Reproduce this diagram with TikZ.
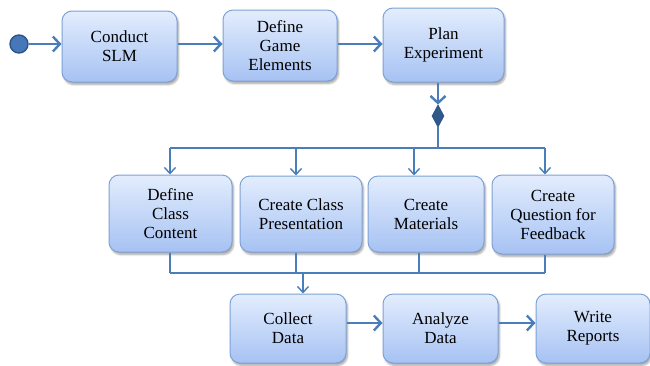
\documentclass[tikz,border=0pt]{standalone}
\usepackage{fontspec}
\setmainfont{Liberation Serif}
\usetikzlibrary{arrows.meta,shapes.geometric,shadows.blur}
\definecolor{linec}{HTML}{4A7EBB}
\definecolor{boxline}{HTML}{7EA2D6}
\definecolor{boxtop}{HTML}{E3EDFD}
\definecolor{boxbot}{HTML}{A6C2F3}
\definecolor{dotfill}{HTML}{4677B8}
\definecolor{dotline}{HTML}{2C5586}
\begin{document}
\begin{tikzpicture}[x=1pt,y=-1pt,
  act/.style={rectangle, rounded corners=10pt, draw=boxline, line width=1pt,
    top color=boxtop, bottom color=boxbot, align=center, inner sep=2pt,
    font=\rmfamily\fontsize{17}{19}\selectfont,
    blur shadow={shadow xshift=1.5pt, shadow yshift=-2.5pt, shadow opacity=35, shadow blur steps=6}},
  flow/.style={draw=linec, line width=2.4pt,
    -{Straight Barb[length=7pt,width=15pt]}},
  branch/.style={draw=linec, line width=1.4pt},
  branchin/.style={branch, -{Straight Barb[length=6pt,width=11pt]}}]
\useasboundingbox (0,0) rectangle (650,365);

% initial state
\node[circle, draw=dotline, fill=dotfill, line width=1.4pt, minimum size=18pt, inner sep=0pt] (start) at (19,44) {};

% first row
\node[act, minimum width=115pt, minimum height=71pt] (slm) at (119.5,46.5) {Conduct\\SLM};
\node[act, minimum width=114pt, minimum height=71pt] (game) at (280,45.5) {Define\\Game\\Elements};
\node[act, minimum width=121pt, minimum height=74pt] (plan) at (443.5,45) {Plan\\Experiment};

% fork diamond
\node[diamond, draw=dotline, fill=dotline!90!dotfill, line width=0.8pt, minimum width=12pt, minimum height=22pt, inner sep=0pt] (fork) at (438,116) {};

% second row
\node[act, minimum width=123pt, minimum height=77pt] (content) at (170.5,213.5) {Define\\Class\\Content};
\node[act, minimum width=122pt, minimum height=76pt] (present) at (301,214) {Create Class\\Presentation};
\node[act, minimum width=116pt, minimum height=76pt] (mater) at (426,214) {Create\\Materials};
\node[act, minimum width=122pt, minimum height=79pt] (quest) at (553,214.5) {Create\\Question for\\Feedback};

% third row
\node[act, minimum width=116pt, minimum height=69pt] (collect) at (288,328.5) {Collect\\Data};
\node[act, minimum width=115pt, minimum height=69pt] (analyze) at (440.5,328.5) {Analyze\\Data};
\node[act, minimum width=114pt, minimum height=69pt] (report) at (593,328.5) {Write\\Reports};

% helper points for the split and merge bars
\coordinate (sp) at (438,148);
\coordinate (sa) at (170,148);
\coordinate (sb) at (296,148);
\coordinate (sc) at (414,148);
\coordinate (sd) at (545,148);
\coordinate (ma) at (170,273);
\coordinate (mb) at (296,273);
\coordinate (mc) at (419,273);
\coordinate (md) at (545,273);
\coordinate (mo) at (303,273);
\coordinate (rowc) at (0,323);

% first row flow
\draw[flow] (start.east) -- (slm.west |- start);
\draw[flow] (slm.east |- start) -- (game.west |- start);
\draw[flow] (game.east |- start) -- (plan.west |- start);
\draw[flow] (plan.south -| fork) -- (fork.north);

% split bar
\draw[branch] (fork.south) -- (sp);
\draw[branch] (sa) -- (sd);
\draw[branchin] (sa) -- (sa |- content.north);
\draw[branchin] (sb) -- (sb |- present.north);
\draw[branchin] (sc) -- (sc |- mater.north);
\draw[branchin] (sd) -- (sd |- quest.north);

% merge bar
\draw[branch] (ma |- content.south) -- (ma);
\draw[branch] (mb |- present.south) -- (mb);
\draw[branch] (mc |- mater.south) -- (mc);
\draw[branch] (md |- quest.south) -- (md);
\draw[branch] (ma) -- (md);
\draw[branchin] (mo) -- (mo |- collect.north);

% third row flow
\draw[flow] (collect.east |- rowc) -- (analyze.west |- rowc);
\draw[flow] (analyze.east |- rowc) -- (report.west |- rowc);
\end{tikzpicture}
\end{document}
